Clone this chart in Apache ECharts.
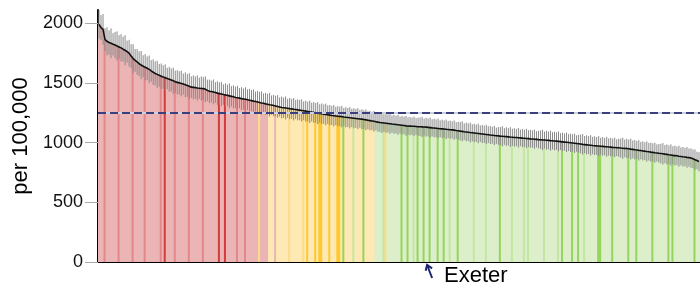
<!DOCTYPE html>
<html>
<head>
<meta charset="utf-8">
<script src="https://cdn.jsdelivr.net/npm/echarts@6/dist/echarts.min.js"></script>
<style>
  html, body { margin: 0; padding: 0; background: #fff; }
  #chart { width: 700px; height: 289px; }
</style>
</head>
<body>
<div id="chart"></div>
<script>
// rates per 100,000, areas ranked highest to lowest
const values = [
  1990,1962,1948,1862,1848,1838,1831,1823,1816,1809,1801,1793,1782,1773,1762,1748,1724,1703,1688,1675,
  1660,1649,1639,1631,1622,1613,1600,1589,1579,1571,1563,1556,1549,1543,1536,1530,1524,1517,1510,1504,
  1500,1495,1490,1484,1478,1471,1464,1462,1460,1457,1455,1453,1452,1446,1437,1429,1427,1424,1419,1414,
  1410,1406,1402,1399,1395,1391,1387,1383,1378,1375,1372,1368,1365,1362,1359,1355,1351,1347,1344,1340,
  1336,1332,1329,1324,1321,1317,1314,1310,1306,1302,1298,1294,1292,1290,1287,1284,1282,1279,1277,1274,
  1272,1269,1266,1263,1260,1257,1255,1252,1249,1246,1244,1241,1238,1235,1233,1230,1227,1225,1223,1221,
  1219,1217,1214,1212,1210,1208,1206,1204,1202,1200,1198,1196,1193,1190,1187,1184,1181,1178,1175,1171,
  1168,1166,1164,1162,1160,1158,1155,1153,1151,1149,1147,1145,1143,1140,1139,1138,1137,1136,1135,1133,
  1132,1131,1130,1129,1127,1125,1123,1122,1120,1118,1116,1115,1113,1111,1110,1108,1106,1104,1101,1099,
  1096,1094,1091,1089,1087,1084,1082,1080,1078,1076,1074,1072,1070,1068,1066,1063,1061,1059,1057,1056,
  1054,1053,1051,1050,1048,1046,1045,1043,1042,1040,1039,1037,1036,1034,1033,1031,1030,1028,1027,1025,
  1024,1022,1021,1019,1018,1016,1015,1013,1012,1010,1008,1006,1004,1002,1000,998,996,994,992,990,
  988,985,983,981,979,977,975,974,972,971,969,968,966,965,963,962,960,959,957,956,
  954,953,951,950,948,945,943,940,938,935,933,930,928,925,923,920,918,915,913,910,
  908,906,903,901,898,896,893,891,889,886,884,881,879,876,874,870,864,857,850,840
];
// half width of the 95% interval
const ciHalf = [
  120,105,128,96,118,102,125,94,110,122,98,115,105,126,92,112,100,120,95,108,
  104,118,92,110,99,116,90,108,101,114,95,106,98,112,90,104,96,110,93,102,
  98,108,88,104,95,110,90,100,94,106,88,101,96,108,90,98,92,104,87,99,
  94,102,86,97,91,104,85,96,90,100,84,95,89,101,86,94,90,98,83,93,
  88,97,82,92,87,99,81,90,86,95,80,91,85,96,79,89,84,94,80,88,
  85,93,78,88,83,94,79,87,82,92,77,86,81,91,78,85,80,90,76,84,
  82,90,75,85,80,89,76,84,79,88,74,83,78,87,75,82,77,86,73,81,
  79,86,72,80,76,85,73,79,75,84,71,78,74,83,72,77,73,82,70,76,
  78,85,71,79,75,84,72,78,74,83,70,77,73,82,71,76,72,81,69,75,
  77,84,70,78,74,83,71,77,73,82,69,76,72,81,70,75,71,80,68,74,
  76,84,70,78,73,83,71,77,72,82,69,76,71,81,70,75,72,80,68,74,
  77,85,71,79,74,84,72,78,73,83,70,77,72,82,71,76,73,81,69,75,
  78,86,72,80,75,85,73,79,74,84,71,78,73,83,72,77,74,82,70,76,
  80,88,74,82,77,87,75,81,76,86,73,80,75,85,74,79,76,84,72,78,
  82,90,76,84,79,89,77,83,78,88,75,82,77,87,76,81,78,86,74,80
];
// category of each area (r/R/D red group, y/Y/O amber group, g/G/E green group)
const groups = (
  'rrrRrrrrrrRrrrrrrRrr' + 'rrrRrrrrrrrRrDrrrrRr' + 'rrrrrRrrrrrrRrrrrrrr' +
  'DrrDrrrrrRrrrRrrrrrr' + 'YrrrryyyryyyyyyYyyyy' + 'yyYyOyyyOyOOyyyOyyyO' +
  'OyEyyyyGyyyyEyyyyygg' + 'ggGYgggggggEggEggGgE' + 'ggEggEgggEggEggGgggE' +
  'gggggggGgggggGgggggg' + 'EgggggGgggggGgGggggg' + 'ggGggggggGgEggggEggE' +
  'ggGggggggEEgggggEggg' + 'ggggEgggEgggggggEggg' + 'ggggEgEggggggggggEgg'
).split('');
const ranks = values.map((v, i) => String(i + 1));
const yTicks = [0, 500, 1000, 1500, 2000];
const england = 1250;
const highlight = { index: 165, name: 'Exeter' };

const palette = {
  r: '#ebb5b5', R: '#e3878a', D: '#d43b3b',
  y: '#fee9b4', Y: '#fcdc8a', O: '#fec830',
  g: '#dcefca', G: '#c4e5a3', E: '#95d45e'
};
const font = 'Liberation Sans, Arial, sans-serif';

const chart = echarts.init(document.getElementById('chart'));
chart.setOption({
  animation: false,
  grid: { left: 98, right: 0, top: 10, bottom: 27 },
  xAxis: {
    type: 'category',
    data: ranks,
    axisLine: { lineStyle: { color: '#000', width: 2 } },
    axisTick: { show: false },
    axisLabel: { show: false }
  },
  yAxis: {
    type: 'value',
    min: 0, max: 2110, interval: 500,
    name: 'per 100,000',
    nameLocation: 'middle',
    nameGap: 66,
    nameTextStyle: { fontSize: 22, color: '#000', fontFamily: font },
    axisLine: { show: true, lineStyle: { color: '#000', width: 2 } },
    axisTick: { show: true, length: 13, customValues: yTicks, lineStyle: { color: '#aaa' } },
    axisLabel: {
      customValues: yTicks, margin: 15, fontSize: 18, color: '#111', fontFamily: font,
      formatter: v => String(v)
    },
    splitLine: { show: false }
  },
  series: [
    {
      type: 'bar',
      barWidth: 3,
      data: values.map((v, i) => ({ value: v, itemStyle: { color: palette[groups[i]] } })),
      markLine: {
        silent: true, symbol: 'none', label: { show: false },
        data: [
          { yAxis: england, lineStyle: { type: 'solid', color: '#cdd0df', width: 2 } },
          { yAxis: england, lineStyle: { type: [8, 4], color: '#3b3f7e', width: 2 } }
        ]
      }
    },
    {
      type: 'custom',
      z: 3,
      data: values.map((v, i) => [i, v - ciHalf[i], v + ciHalf[i]]),
      encode: { x: 0, y: [1, 2] },
      renderItem: function (params, api) {
        const lo = api.coord([api.value(0), api.value(1)]);
        const hi = api.coord([api.value(0), api.value(2)]);
        return {
          type: 'line',
          shape: { x1: lo[0], y1: lo[1], x2: hi[0], y2: hi[1] },
          style: { stroke: '#8a8a8a', lineWidth: 1 }
        };
      }
    },
    {
      type: 'line',
      z: 4,
      data: values,
      showSymbol: false,
      lineStyle: { color: '#111', width: 1.6 }
    }
  ]
});

// arrow + label for the highlighted area
const p = chart.convertToPixel({ xAxisIndex: 0, yAxisIndex: 0 }, [highlight.index, 0]);
const tip = [p[0] - 3, p[1] + 3];
const tail = [p[0] + 2, p[1] + 16];
const dx = tail[0] - tip[0], dy = tail[1] - tip[1];
const len = Math.sqrt(dx * dx + dy * dy);
const ux = dx / len, uy = dy / len;
const a = 35 * Math.PI / 180, w = 6;
const wing1 = [tip[0] + w * (ux * Math.cos(a) - uy * Math.sin(a)), tip[1] + w * (ux * Math.sin(a) + uy * Math.cos(a))];
const wing2 = [tip[0] + w * (ux * Math.cos(a) + uy * Math.sin(a)), tip[1] + w * (-ux * Math.sin(a) + uy * Math.cos(a))];
chart.setOption({
  graphic: [
    { type: 'polyline', shape: { points: [tail, tip] }, style: { stroke: '#1c2470', lineWidth: 2 } },
    { type: 'polyline', shape: { points: [wing1, tip, wing2] }, style: { stroke: '#1c2470', lineWidth: 2, fill: null } },
    {
      type: 'text', x: p[0] + 14, y: p[1] + 14,
      style: { text: highlight.name, font: '22px ' + font, fill: '#000', verticalAlign: 'middle' }
    }
  ]
});
</script>
</body>
</html>
